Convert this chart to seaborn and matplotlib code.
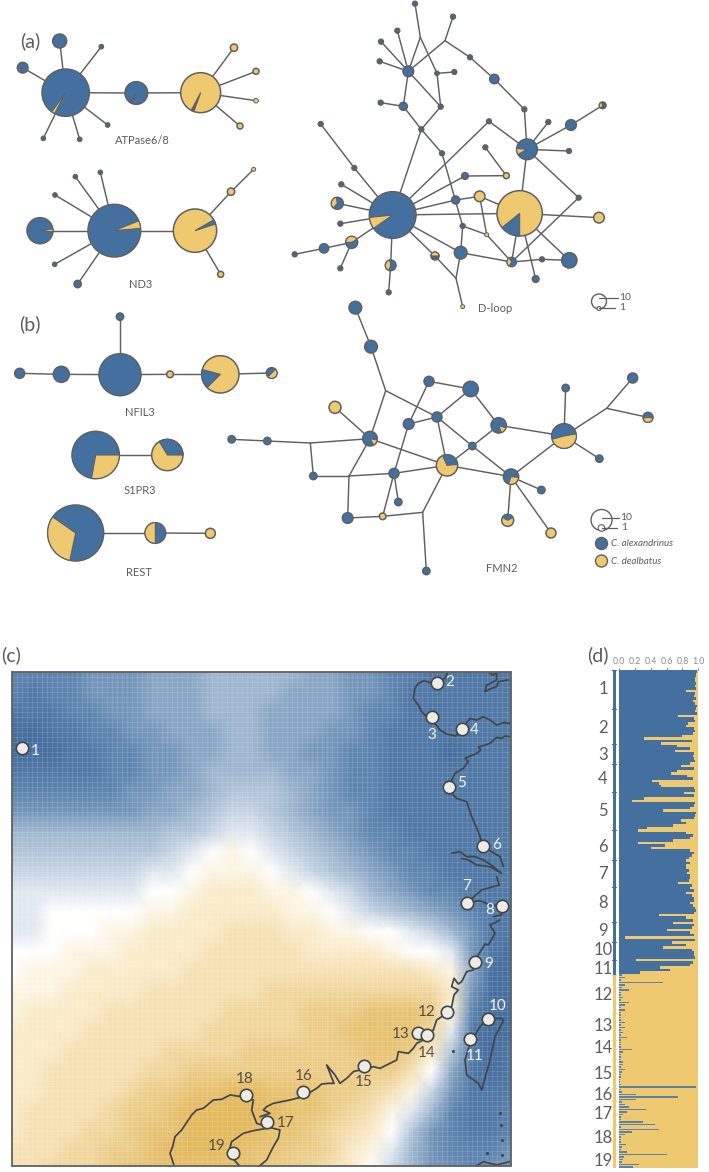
import numpy as np
import pandas as pd
import seaborn as sns
import matplotlib
matplotlib.use('Agg')
import matplotlib.pyplot as plt
from matplotlib.colors import LinearSegmentedColormap
from matplotlib.patches import Circle, Wedge, Rectangle

sns.set_theme(style='white')
plt.rcParams['font.family'] = ['Lato', 'DejaVu Sans']

blue = '#44709f'
yellow = '#eec96f'
grey = '#5f6062'
dark = '#56626f'
text_col = '#5c5c5c'
fills = {'b': blue, 'y': yellow, 'd': dark}

# networks: coordinates are read off 3x crops, kinds b/y/d, j = junction without a node
atp_x = [197, 179, 68, 304, 323, 239, 130, 409, 602, 702, 768, 768, 720]
atp_y = [278, 123, 203, 140, 375, 418, 415, 279, 278, 143, 214, 302, 378]
atp_r = [71, 21, 16, 7, 7, 7, 7, 34, 60, 11, 9, 7, 9]
atp_kind = 'bbbdddd' + 'by' + 'yyyy'
atp_edges = [(0, 1), (0, 2), (0, 3), (0, 4), (0, 5), (0, 6), (0, 7), (7, 8), (8, 9), (8, 10), (8, 11), (8, 12)]
atp_wedges = {0: (118, 126, yellow), 2: (135, 160, yellow), 7: (120, 128, grey), 8: (110, 118, grey)}

nd3_x = [343, 120, 226, 301, 165, 164, 233, 585, 693, 761, 662]
nd3_y = [692, 692, 530, 517, 585, 793, 852, 692, 575, 508, 823]
nd3_r = [79, 39, 7, 7, 7, 7, 11, 65, 11, 6, 9]
nd3_kind = 'bbddddbyyyy'
nd3_edges = [(0, 1), (0, 2), (0, 3), (0, 4), (0, 5), (0, 6), (0, 7), (7, 8), (8, 9), (7, 10)]
nd3_wedges = {0: (-22, -5, yellow), 1: (-8, 5, yellow), 7: (-30, -18, blue)}

dloop_x = [308, 689, 711, 843, 938, 775, 837, 703, 613, 540, 465, 489, 375, 391, 355, 322, 273, 269, 441, 493,
           452, 340, 272, 394, 456, 597, 586, 649, 525, 569, 497, 866, 927, 518, 590, 512, 665, 756, 838, 737,
           498, 518, 435, 302, 296, 185, 151, 102, 14, 151, 142, 154, 193, 92]
dloop_y = [645, 640, 448, 375, 316, 366, 453, 328, 237, 172, 122, 50, 11, 112, 214, 92, 125, 184, 220, 216,
           320, 319, 308, 388, 460, 364, 442, 527, 528, 589, 600, 593, 653, 678, 704, 758, 786, 778, 781, 837,
           835, 920, 768, 796, 877, 727, 805, 745, 763, 671, 610, 553, 504, 372]
dloop_r = [70, 68, 31, 16, 10, 8, 8, 8, 14, 8, 0, 8, 8, 0, 16, 8, 8, 8, 7, 8,
           8, 12, 8, 8, 8, 8, 8, 9, 10, 16, 12, 8, 16, 8, 6, 19, 14, 8, 23, 10,
           0, 6, 12, 16, 8, 18, 8, 14, 8, 8, 18, 8, 8, 8]
dloop_kind = 'bybbddddbd' + 'jddjbddddd' + 'dbdddddyby' + 'bdydybbdbb' + 'jydbdbdbdd' + 'bddd'
dloop_edges = [(0, 23), (23, 21), (21, 14), (21, 22), (14, 15), (14, 16), (14, 17), (14, 13), (13, 12), (14, 10),
               (10, 11), (10, 9), (9, 8), (8, 7), (7, 2), (13, 18), (18, 20), (18, 19), (14, 20), (20, 23),
               (23, 24), (24, 33), (33, 35), (33, 34), (34, 36), (0, 25), (25, 2), (0, 28), (28, 27), (27, 26),
               (0, 30), (30, 29), (29, 1), (29, 34), (0, 1), (0, 35), (0, 42), (42, 40), (35, 40), (40, 41),
               (35, 36), (36, 37), (37, 38), (1, 38), (1, 36), (1, 39), (1, 32), (1, 2), (2, 3), (3, 4),
               (2, 5), (2, 6), (2, 31), (31, 36), (0, 43), (43, 44), (0, 45), (45, 47), (47, 48), (45, 46),
               (0, 49), (0, 50), (0, 51), (0, 52), (52, 53)]
dloop_wedges = {0: (145, 174, yellow), 1: (90, 141, blue), 2: (150, 185, yellow), 4: (120, 250, yellow),
                36: (120, 240, yellow), 42: (-180, 0, yellow), 43: (110, 260, yellow), 45: (180, 330, yellow),
                50: (130, 260, yellow)}

nfil_x = [360, 360, 184, 59, 510, 661, 815]
nfil_y = [194, 20, 193, 190, 193, 193, 189]
nfil_r = [63, 11, 24, 15, 10, 56, 16]
nfil_kind = 'bbbbyyb'
nfil_edges = [(0, 1), (0, 2), (2, 3), (0, 4), (4, 5), (5, 6)]
nfil_wedges = {5: (135, 195, blue), 6: (-45, 135, yellow)}

s1pr_x = [287, 502]
s1pr_y = [435, 435]
s1pr_r = [71, 47]
s1pr_kind = 'by'
s1pr_edges = [(0, 1)]
s1pr_wedges = {0: (0, 100, yellow), 1: (-121, 0, blue)}

rest_x = [227, 466, 631]
rest_y = [669, 669, 670]
rest_r = [84, 31, 15]
rest_kind = 'bby'
rest_edges = [(0, 1), (1, 2)]
rest_wedges = {0: (102, 215, yellow), 1: (90, 270, yellow)}

fmn_x = [436, 483, 527, 375, 480, 65, 172, 301, 310, 417, 413, 518, 638, 649, 552, 565, 596, 657, 782, 681,
         787, 866, 711, 903, 1062, 1067, 1268, 1190, 1314, 1168, 994, 893, 1023]
fmn_y = [38, 155, 287, 337, 431, 433, 438, 444, 543, 543, 669, 664, 652, 828, 535, 621, 387, 259, 282, 366,
         453, 391, 511, 545, 423, 279, 249, 340, 367, 491, 585, 676, 714]
fmn_r = [19, 19, 0, 18, 22, 11, 11, 0, 11, 0, 16, 10, 0, 11, 15, 11, 16, 15, 23, 15,
         11, 23, 32, 23, 37, 11, 15, 0, 15, 11, 11, 18, 15]
fmn_kind = 'bbjybbbjbjbyjbbbbbbbbbybbbbjbbbyy'
fmn_edges = [(0, 1), (1, 2), (2, 4), (2, 19), (3, 4), (4, 7), (7, 6), (6, 5), (7, 8), (8, 9),
             (9, 4), (9, 10), (9, 14), (10, 11), (11, 12), (12, 13), (12, 22), (11, 14), (14, 15), (14, 16),
             (14, 22), (16, 17), (16, 19), (17, 18), (18, 19), (18, 21), (19, 22), (19, 20), (20, 21), (20, 22),
             (20, 23), (4, 22), (22, 23), (21, 24), (23, 24), (24, 25), (24, 27), (27, 26), (27, 28), (24, 29),
             (23, 30), (23, 31), (23, 32)]
fmn_wedges = {4: (10, 60, yellow), 21: (20, 70, yellow), 22: (-115, -5, blue), 23: (5, 110, yellow),
              24: (-10, 165, yellow), 28: (10, 170, yellow), 31: (-150, -30, blue)}

# (c) suitability surface, rows every 20 px from the top, blue negative, gold positive
suit = [
    [-7, -7, -7, -7, -6, -6, -6, -5, -5, -5, -4, -4, -4, -4, -4, -5, -5, -6, -6, -7, -7, -8, -8, -8, -8, -8],
    [-7, -8, -7, -7, -6, -6, -6, -5, -5, -5, -4, -4, -4, -4, -5, -5, -5, -6, -6, -7, -8, -8, -8, -8, -8, -8],
    [-8, -8, -8, -7, -7, -6, -6, -5, -5, -5, -4, -4, -4, -5, -5, -5, -5, -6, -7, -7, -8, -8, -8, -8, -8, -8],
    [-9, -9, -8, -8, -7, -7, -6, -6, -5, -5, -5, -4, -4, -5, -5, -5, -6, -6, -7, -8, -8, -8, -8, -8, -8, -8],
    [-9, -9, -9, -8, -8, -7, -7, -6, -6, -5, -5, -4, -4, -5, -5, -6, -6, -7, -7, -8, -8, -8, -9, -8, -8, -8],
    [-8, -8, -8, -8, -8, -7, -7, -6, -6, -5, -4, -4, -4, -4, -5, -5, -6, -7, -7, -8, -8, -8, -8, -8, -8, -8],
    [-7, -7, -7, -7, -7, -7, -6, -6, -5, -5, -4, -3, -3, -3, -4, -5, -6, -7, -7, -8, -8, -8, -8, -8, -8, -8],
    [-6, -6, -6, -6, -6, -6, -6, -5, -5, -4, -3, -2, -2, -3, -4, -5, -6, -6, -7, -8, -8, -8, -8, -8, -8, -8],
    [-4, -4, -4, -4, -4, -4, -4, -4, -3, -3, -2, -1, -1, -2, -3, -4, -5, -6, -7, -7, -8, -8, -8, -8, -8, -8],
    [-3, -3, -3, -3, -3, -3, -3, -3, -2, -1, 0, 1, 0, -1, -2, -3, -4, -5, -6, -7, -7, -8, -8, -8, -8, -8],
    [-2, -2, -2, -2, -2, -2, -2, -1, -1, 0, 1, 1, 1, 0, -1, -2, -3, -4, -5, -6, -7, -7, -8, -8, -8, -8],
    [-1, -1, -1, -1, -1, -1, -1, 0, 0, 1, 2, 2, 2, 1, 1, 0, -1, -2, -4, -5, -6, -7, -7, -8, -8, -8],
    [-1, -1, 0, 0, 0, 0, 0, 1, 1, 2, 2, 2, 2, 2, 1, 1, 0, -1, -2, -3, -4, -5, -6, -7, -8, -8],
    [-1, -1, 0, 0, 0, 1, 1, 2, 2, 2, 2, 3, 3, 3, 2, 2, 1, 1, 0, 0, -1, -2, -4, -6, -8, -8],
    [0, 0, 0, 1, 1, 1, 2, 2, 2, 2, 3, 3, 3, 3, 3, 2, 2, 2, 2, 1, 0, 0, -1, -6, -8, -9],
    [0, 1, 1, 1, 2, 2, 2, 2, 2, 3, 3, 3, 3, 3, 3, 3, 3, 3, 3, 3, 3, 2, 1, -5, -9, -9],
    [1, 1, 1, 2, 2, 2, 2, 3, 3, 3, 3, 3, 3, 4, 4, 4, 4, 4, 4, 4, 4, 4, 2, -6, -9, -9],
    [1, 2, 2, 2, 2, 3, 3, 3, 3, 3, 3, 4, 4, 4, 4, 5, 5, 5, 6, 6, 6, 5, 1, -7, -9, -9],
    [2, 2, 2, 2, 3, 3, 3, 3, 3, 3, 4, 4, 4, 4, 4, 5, 5, 6, 6, 6, 6, 4, -1, -8, -9, -9],
    [2, 2, 2, 3, 3, 3, 3, 3, 4, 4, 4, 4, 5, 5, 5, 5, 5, 5, 6, 6, 5, 2, -3, -8, -9, -8],
    [2, 2, 3, 3, 3, 3, 3, 4, 4, 5, 5, 5, 5, 5, 5, 5, 5, 5, 5, 5, 3, 0, -5, -8, -9, -8],
    [2, 2, 3, 3, 3, 3, 4, 5, 5, 6, 6, 7, 7, 6, 6, 6, 5, 5, 4, 3, 1, -2, -6, -8, -8, -8],
    [2, 3, 3, 3, 3, 4, 5, 5, 6, 7, 7, 7, 7, 7, 6, 6, 5, 4, 3, 1, -1, -4, -7, -8, -8, -7],
    [2, 3, 3, 3, 4, 4, 5, 6, 6, 7, 7, 7, 7, 6, 6, 5, 4, 3, 2, 0, -3, -6, -7, -8, -8, -7],
    [3, 3, 3, 4, 4, 5, 5, 6, 7, 7, 7, 7, 6, 6, 5, 5, 4, 2, 1, -1, -4, -6, -7, -7, -7, -6],
    [3, 3, 4, 4, 4, 5, 6, 6, 6, 6, 6, 6, 6, 5, 5, 4, 3, 2, 0, -2, -4, -6, -6, -7, -6, -6],
]

# sampling sites on the map, in image pixels
site_x = [21.5, 437, 432, 462, 449, 483, 467, 502, 475, 488, 470, 446.7, 417.7, 426.7, 364.3, 303, 266.7, 246.3, 232.7]
site_y = [748, 683, 717, 729, 787, 846, 903, 906, 961.7, 1018.7, 1038.7, 1012, 1033, 1035, 1066, 1092.3, 1122.3, 1094.7, 1153.3]
label_x = [35, 450, 432, 474, 462, 497, 467, 490, 489, 498, 475, 427, 400.7, 426.7, 363.7, 303.3, 286, 245, 217]
label_y = [751, 682, 735, 730, 783, 845, 886, 910, 964, 1005.7, 1056, 1011.7, 1034, 1052.7, 1082, 1076, 1123, 1078.7, 1146]
label_col = ['w'] * 11 + ['d'] * 8

# coast pieces, crop coordinates: first group from the north crop, second from the south crop
coast_north = [
    [(292, 40), (285, 55), (262, 62), (240, 68), (222, 62), (205, 70), (195, 85), (190, 115), (205, 135), (215, 155), (232, 172), (255, 190),
     (270, 210), (290, 222), (318, 228), (335, 212), (345, 195), (360, 175), (380, 180), (400, 170), (420, 180), (440, 195), (460, 188), (478, 190)],
    [(415, 35), (428, 45), (440, 40), (440, 60), (425, 68), (410, 75), (405, 95), (425, 85), (440, 80), (445, 65), (475, 60)],
    [(478, 230), (465, 228), (455, 235), (440, 232), (420, 250), (385, 262), (393, 270), (380, 280), (345, 295), (355, 305), (340, 325), (315, 340), (300, 370),
     (305, 400), (320, 415), (350, 425), (365, 470), (385, 515), (400, 560), (425, 575), (450, 590), (460, 620)],
    [(305, 580), (330, 575), (350, 590), (375, 590), (400, 600), (420, 612), (455, 640), (420, 620), (380, 615), (355, 600), (335, 595)],
    [(440, 650), (448, 675), (430, 680), (395, 690), (370, 712), (350, 728), (390, 722), (420, 735), (455, 738), (455, 765), (430, 770)],
]
coast_south = [
    [(1050, 0), (1020, 15), (1035, 40), (1015, 75), (1005, 72), (985, 105), (975, 125), (970, 150), (950, 155), (935, 185), (925, 192), (912, 175), (905, 200), (925, 210),
     (912, 225), (905, 260), (890, 276), (875, 290), (860, 300), (850, 330), (835, 340), (820, 360), (800, 370), (790, 385), (775, 400), (745, 395), (740, 420), (720, 430),
     (690, 445), (670, 440), (643, 450), (620, 452), (610, 455), (590, 475), (570, 490), (555, 465), (530, 435), (540, 460), (552, 490), (535, 490), (515, 492), (500, 505),
     (459, 530), (420, 540), (395, 545), (370, 550), (350, 560), (340, 570), (360, 580), (330, 590)],
    [(275, 530), (240, 525), (215, 538), (190, 540), (160, 565), (140, 570), (125, 585), (115, 600), (95, 630), (75, 650), (68, 680), (60, 700), (75, 745)],
    [(275, 530), (310, 540), (305, 570), (320, 610), (350, 620), (390, 630), (385, 655), (370, 680), (350, 720), (320, 745)],
    [(350, 625), (310, 632), (280, 640), (245, 665), (235, 700), (275, 745)],
    [(1014, 296), (1055, 295), (1060, 303), (1035, 350), (1020, 420), (995, 510), (985, 490), (950, 465), (945, 420), (960, 370), (990, 320), (1014, 296)],
    [(975, 740), (1000, 725), (1040, 735), (1078, 725)],
]
island_x = [910, 1050, 1052, 1055, 1012, 1055]
island_y = [393, 580, 615, 660, 700, 705]

# (d) membership per individual, fraction of the blue cluster
blue_north = [.98, .97, .97, .96, .96, .97, .96, .97, .85, .96,
              .95, .97, .93, .96, .98, .97, .96, .98, .75, .95,
              .96, .87, .84, .95, .96, .93, .79, .31, .92, .53,
              .73, .90, .70, .94, .93, .94, .96, .90, .78, .94,
              .73, .66, .86, .93, .42, .50, .53, .95, .96, .82,
              .94, .31, .17, .96, .94, .90, .56, .97, .96, .95,
              .78, .84, .68, .35, .24, .85, .93, .90, .68, .24,
              .58, .40, .90, .94, .92, .88, .84, .90, .85, .84,
              .88, .86, .90, .90, .88, .74, .92, .90, .94, .85,
              .92, .94, .95, .90, .93, .96, .97, .94, .50, .84,
              .93, .68, .95, .92, .60, .90, .94, .08, .96, .67,
              .85, .55, .92, .95, .94, .96, .22, .93, .90, .52, .64, .26]
blue_south = [.04, .07, .03, .55, .08, .04, .12, .03,
              .02, .05, .03, .12, .08, .02, .07, .02, .02, .02,
              .02, .07, .02, .08, .03, .05, .02, .10, .03, .02,
              .02, .03, .16, .05, .02, .02, .03, .05, .05, .03,
              .08, .04, .02, .02, .01, .01, .02, .97, .03, .04,
              .22, .74, .21, .04, .07, .12, .34, .10, .05, .03,
              .03, .30, .45, .03, .51, .16, .08, .03, .02, .03,
              .09, .04, .03, .10, .61, .06, .05, .04, .25, .18]
pop_labels = [str(i) for i in range(1, 20)]
pop_label_y = [689, 728, 755, 779, 811, 847, 874, 903, 931, 950, 969, 995, 1026, 1048, 1074, 1095, 1114, 1138, 1161]
pop_tops = [670, 709, 744, 764, 792, 830, 860, 887, 922, 942, 960, 975, 1013, 1040, 1059, 1088, 1101, 1125, 1153]
pop_end = 1168


def to_px(xs, ys, ox, oy):
    return ox + np.asarray(xs, dtype=float) / 3, oy + np.asarray(ys, dtype=float) / 3


def draw_network(ax, xs, ys, rs, kinds, edges, wedges, ox, oy):
    px, py = to_px(xs, ys, ox, oy)
    for a, b in edges:
        ax.plot([px[a], px[b]], [py[a], py[b]], color=grey, lw=1.05, zorder=2, solid_capstyle='round')
    for i, kind in enumerate(kinds):
        if kind == 'j':
            continue
        r = rs[i] / 3
        lw = 1.1 if r > 2.8 else 0.7
        ax.add_patch(Circle((px[i], py[i]), r, fc=fills[kind], ec=grey, lw=lw, zorder=3))
        if i in wedges:
            t1, t2, col = wedges[i]
            ax.add_patch(Wedge((px[i], py[i]), r, t1, t2, fc=col, ec=grey, lw=0.8, zorder=4))


fig = plt.figure(figsize=(7.09, 11.72), dpi=100)
W, H = 709.0, 1172.0

# map underneath
map_l, map_r, map_t, map_b = 12, 511, 672, 1166
ax_map = fig.add_axes([map_l / W, 1 - map_b / H, (map_r - map_l) / W, (map_b - map_t) / H])
suit_cmap = LinearSegmentedColormap.from_list('suit', [(0, '#41699a'), (0.12, '#5a82ad'), (0.28, '#9bb4ce'), (0.42, '#d0dce8'),
                                                       (0.5, '#ffffff'), (0.6, '#faeccb'), (0.86, '#e4ba60'), (1, '#e2b558')])
sns.heatmap(np.array(suit, dtype=float), ax=ax_map, cmap=suit_cmap, vmin=-9.5, vmax=9.5, cbar=False,
            xticklabels=False, yticklabels=False, shading='gouraud')
ax_map.set_xlim(0, (map_r - map_l) / 20)
ax_map.set_ylim((map_b - map_t) / 20, 0)
ax_map.set_xticks(np.arange(0, 25, 0.25), minor=True)
ax_map.set_yticks(np.arange(0, 25, 0.25), minor=True)
ax_map.tick_params(which='both', length=0)
ax_map.grid(which='minor', color='white', alpha=0.17, lw=0.5)
ax_map.set_axisbelow(False)

# (d) bars
ax_bar = fig.add_axes([619 / W, 1 - pop_end / H, 79.3 / W, (pop_end - 670) / H])
n_north = len(blue_north)
blue_vals = blue_north + blue_south
bar_df = pd.DataFrame({'row': np.arange(len(blue_vals)), 'blue': blue_vals, 'full': 1.0})
ax_bar.set_facecolor(yellow)
sns.barplot(data=bar_df, y='row', x='full', orient='h', native_scale=True, width=1.02, color=yellow,
            saturation=1, linewidth=0, ax=ax_bar)
sns.barplot(data=bar_df[:n_north], y='row', x='blue', orient='h', native_scale=True, width=1.02, color=blue,
            saturation=1, linewidth=0, ax=ax_bar)
sns.barplot(data=bar_df[n_north:], y='row', x='blue', orient='h', native_scale=True, width=0.6, color='#5d82a8',
            saturation=1, linewidth=0, ax=ax_bar)
ax_bar.set_xlim(0, 1)
ax_bar.set_ylim(199.5, -0.5)
ax_bar.set_xlabel('')
ax_bar.set_ylabel('')
ax_bar.set_yticks([])
ax_bar.xaxis.tick_top()
ax_bar.set_xticks([0, .2, .4, .6, .8, 1.0])
ax_bar.set_xticklabels(['0.0', '0.2', '0.4', '0.6', '0.8', '1.0'], fontsize=6.3, color='#8a8a8a')
ax_bar.tick_params(axis='x', length=1.5, width=0.6, color=grey, pad=1.5)
for s in ax_bar.spines.values():
    s.set_visible(False)

# everything else drawn in image pixels
ax = fig.add_axes([0, 0, 1, 1], facecolor='none')
ax.set_xlim(0, W)
ax.set_ylim(H, 0)
ax.axis('off')

draw_network(ax, atp_x, atp_y, atp_r, atp_kind, atp_edges, atp_wedges, 0, 0)
draw_network(ax, nd3_x, nd3_y, nd3_r, nd3_kind, nd3_edges, nd3_wedges, 0, 0)
draw_network(ax, dloop_x, dloop_y, dloop_r, dloop_kind, dloop_edges, dloop_wedges, 290, 0)
draw_network(ax, nfil_x, nfil_y, nfil_r, nfil_kind, nfil_edges, nfil_wedges, 0, 310)
draw_network(ax, s1pr_x, s1pr_y, s1pr_r, s1pr_kind, s1pr_edges, s1pr_wedges, 0, 310)
draw_network(ax, rest_x, rest_y, rest_r, rest_kind, rest_edges, rest_wedges, 0, 310)
draw_network(ax, fmn_x, fmn_y, fmn_r, fmn_kind, fmn_edges, fmn_wedges, 210, 295)

for txt, x, y in [('(a)', 30, 41), ('(b)', 30, 324), ('(c)', 11, 655), ('(d)', 598, 655)]:
    ax.text(x, y, txt, fontsize=14, color=text_col, ha='center', va='center')
for txt, x, y in [('ATPase6/8', 142, 141), ('ND3', 140.5, 284.5), ('D-loop', 495, 308), ('NFIL3', 139.5, 412),
                  ('S1PR3', 140, 491), ('REST', 139, 572), ('FMN2', 502, 568)]:
    ax.text(x, y, txt, fontsize=8, color=text_col, ha='center', va='center')

# size keys and species key
for cx, cy_big, cy_small, r_big, r_small, y10, y1, x_txt, x_end1, x_end10 in [
        (599, 301.5, 308.5, 7.5, 2, 297.5, 308, 624, 615, 618),
        (601.5, 520, 528, 10.5, 3.3, 518, 528, 623, 617, 619)]:
    ax.add_patch(Circle((cx, cy_big), r_big, fc='white', ec=grey, lw=1, zorder=3))
    ax.add_patch(Circle((cx, cy_small), r_small, fc='white', ec=grey, lw=0.8, zorder=3))
    ax.plot([cx, x_end10], [y10, y10], color=grey, lw=0.9, zorder=4)
    ax.plot([cx, x_end1], [y1, y1], color=grey, lw=0.9, zorder=4)
    ax.text(x_end10 + 1, y10, '10', fontsize=7.5, color=text_col, va='center')
    ax.text(x_end1 + 4, y1, '1', fontsize=7.5, color=text_col, va='center')
ax.add_patch(Circle((601.5, 543.5), 6, fc=blue, ec=grey, lw=1, zorder=3))
ax.add_patch(Circle((601.5, 561), 6, fc=yellow, ec=grey, lw=1, zorder=3))
ax.text(611, 544, 'C. alexandrinus', fontsize=7, style='italic', color=text_col, va='center')
ax.text(611, 561, 'C. dealbatus', fontsize=7, style='italic', color=text_col, va='center')

# map overlay
frame = Rectangle((map_l, map_t), map_r - map_l, map_b - map_t, fc='none', ec=grey, lw=1.3, zorder=7)
ax.add_patch(frame)
for pts in coast_north:
    xs, ys = to_px([p[0] for p in pts], [p[1] for p in pts], 350, 660)
    line, = ax.plot(xs, ys, color='#41464c', lw=1.25, zorder=5)
    line.set_clip_path(frame)
for pts in coast_south:
    xs, ys = to_px([p[0] for p in pts], [p[1] for p in pts], 150, 920)
    line, = ax.plot(xs, ys, color='#41464c', lw=1.25, zorder=5)
    line.set_clip_path(frame)
ix, iy = to_px(island_x, island_y, 150, 920)
ax.scatter(ix, iy, s=5, color='#41464c', linewidths=0, zorder=5)
ax.scatter(site_x, site_y, s=80, color='#efece6', edgecolors='#41464c', linewidths=1.2, zorder=6)
for txt, x, y, c in zip(pop_labels, label_x, label_y, label_col):
    ax.text(x, y, txt, fontsize=11, color='#f2f4f7' if c == 'w' else '#55504a', ha='center', va='center', zorder=8)

# population stripe left of the bars
bounds = pop_tops + [pop_end]
for i, top in enumerate(pop_tops):
    col = blue if i < 11 else yellow
    ax.add_patch(Rectangle((612.5, top + 1), 3.5, bounds[i + 1] - top - 1, fc=col, ec='none', zorder=3))
    ax.plot([612, 616], [top, top], color=grey if i < 11 else yellow, lw=0.8, zorder=3)
for txt, y in zip(pop_labels, pop_label_y):
    ax.text(603, y, txt, fontsize=12, color=text_col, ha='center', va='center')

fig.savefig('out.png', dpi=100, facecolor='white')
